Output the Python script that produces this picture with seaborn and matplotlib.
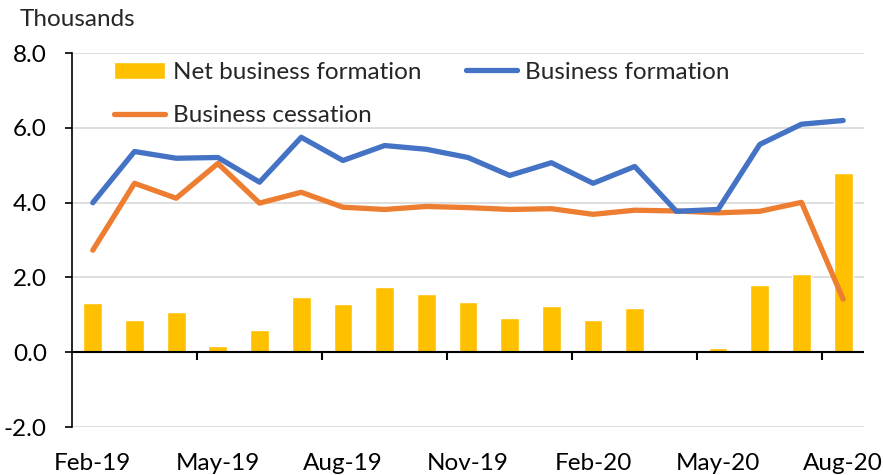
import numpy as np
import pandas as pd
import seaborn as sns
import matplotlib.pyplot as plt
from matplotlib.ticker import FixedLocator

months = ['Feb-19', 'Mar-19', 'Apr-19', 'May-19', 'Jun-19', 'Jul-19', 'Aug-19',
          'Sep-19', 'Oct-19', 'Nov-19', 'Dec-19', 'Jan-20', 'Feb-20', 'Mar-20',
          'Apr-20', 'May-20', 'Jun-20', 'Jul-20', 'Aug-20']
formation = [4.00, 5.37, 5.19, 5.21, 4.55, 5.75, 5.13, 5.53, 5.43, 5.21,
             4.73, 5.07, 4.52, 4.97, 3.77, 3.82, 5.56, 6.10, 6.20]
cessation = [2.73, 4.52, 4.12, 5.05, 3.99, 4.28, 3.88, 3.82, 3.90, 3.87,
             3.82, 3.84, 3.69, 3.80, 3.78, 3.73, 3.77, 4.01, 1.42]
net = [1.31, 0.86, 1.07, 0.17, 0.60, 1.48, 1.28, 1.75, 1.56, 1.34,
       0.91, 1.25, 0.86, 1.19, -0.02, 0.12, 1.81, 2.10, 4.80]

df = pd.DataFrame({'month': months, 'pos': np.arange(len(months)),
                   'formation': formation, 'cessation': cessation, 'net': net})

sns.set_theme(style='white')
plt.rcParams['font.family'] = ['Lato', 'DejaVu Sans']
fs = 17.5

fig = plt.figure(figsize=(8.83, 4.75), dpi=100)
ax = fig.add_axes([0.0815, 0.101, 0.897, 0.787])

sns.barplot(data=df, x='pos', y='net', color='#FFC000', width=0.45,
            saturation=1, ax=ax, label='Net business formation', native_scale=True,
            zorder=2)
sns.lineplot(data=df, x='pos', y='cessation', color='#ED7D31', lw=3.8,
             ax=ax, label='Business cessation', zorder=4)
sns.lineplot(data=df, x='pos', y='formation', color='#4472C4', lw=3.8,
             ax=ax, label='Business formation', zorder=4)

ax.set_xlim(-0.5, len(months) - 0.5)
ax.set_ylim(-2, 8)
ax.set_yticks(np.arange(-2, 8.1, 2))
ax.set_yticklabels([f'{v:.1f}' for v in np.arange(-2, 8.1, 2)])
ax.yaxis.grid(True, color='#d9d9d9', lw=1.2)
ax.set_axisbelow(True)

ax.set_xticks(df['pos'][::3])
ax.set_xticklabels(df['month'][::3])
ax.tick_params(axis='x', length=0, pad=19, labelsize=fs, colors='black')
ax.tick_params(axis='y', length=5, width=1.2, direction='out', labelsize=fs,
               colors='black', left=True, pad=13)
ax.set_xlabel('')
ax.set_ylabel('')

for s in ['top', 'right', 'bottom']:
    ax.spines[s].set_visible(False)
ax.spines['left'].set_color('black')
ax.spines['left'].set_linewidth(1.2)

# zero line acting as category axis, with ticks between every 3rd month
ax.axhline(0, color='black', lw=1.5, zorder=3)
sec = ax.secondary_xaxis(0.2)
sec.spines['bottom'].set_visible(False)
sec.xaxis.set_major_locator(FixedLocator(np.arange(2.5, len(months) - 1, 3)))
sec.tick_params(axis='x', length=6, width=1.5, direction='out', labelbottom=False,
                colors='black')

handles, labels = ax.get_legend_handles_labels()
order = [labels.index('Net business formation'), labels.index('Business cessation'),
         labels.index('Business formation')]
ax.legend([handles[i] for i in order], [labels[i] for i in order], ncol=2,
          loc='upper left', bbox_to_anchor=(0.026, 1.035), frameon=False,
          fontsize=fs, handlelength=2.1, columnspacing=1.85, labelspacing=0.92,
          handletextpad=0.3)

fig.text(0.022, 0.945, 'Thousands', fontsize=fs)

fig.savefig('out.png', dpi=100)
